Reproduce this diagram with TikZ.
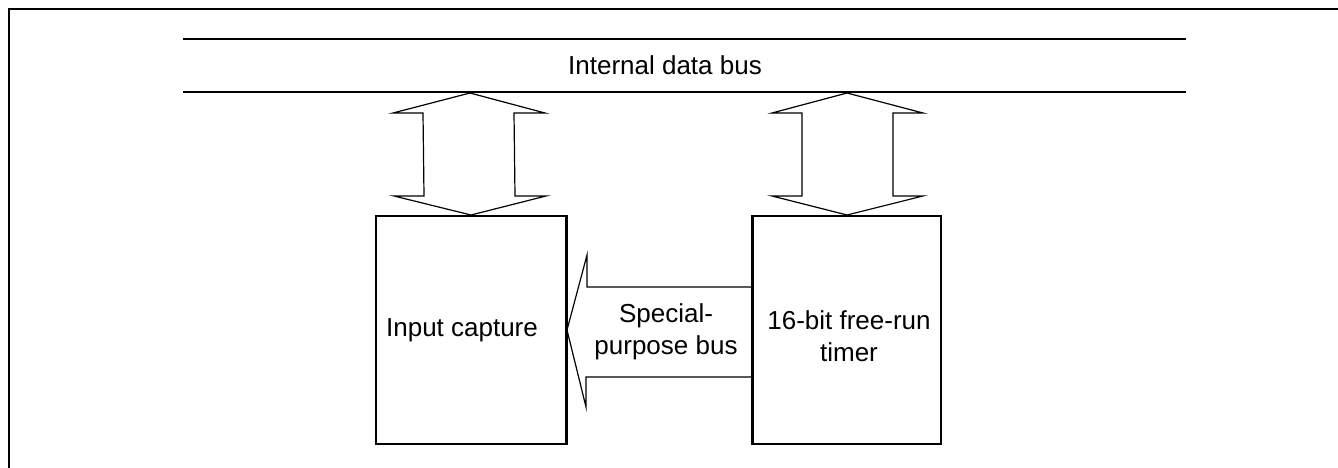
\documentclass[tikz,border=0pt]{standalone}
\usepackage{fontspec}
\setmainfont{Liberation Sans}
\usetikzlibrary{calc}
\begin{document}
\begin{tikzpicture}[x=1pt,y=-1pt,
  frameline/.style={line width=2.2pt},
  busline/.style={line width=2.2pt},
  blockbox/.style={draw,line width=2pt,align=center,inner sep=0pt,font=\fontsize{26}{32}\selectfont},
  busarrow/.style={draw,line width=1.2pt,line join=miter,fill=white},
  lbl/.style={align=center,inner sep=0pt,font=\fontsize{26}{32}\selectfont}]
\useasboundingbox (0,0) rectangle (1338,468);
% outer frame (continues past the picture edges)
\draw[frameline] (9,468) -- (9,9) -- (1338,9);
% internal data bus
\coordinate (busTL) at (183,39);
\coordinate (busTR) at (1186,39);
\coordinate (busBL) at (183,92);
\coordinate (busBR) at (1186,92);
\draw[busline] (busTL) -- (busTR);
\draw[busline] (busBL) -- (busBR);
\node[lbl] (bustext) at (665,65) {Internal data bus};
% blocks
\node[blockbox,minimum width=190pt,minimum height=228pt] (ic) at (471,330) {};
\node[lbl] (ictext) at (462,330) {Input capture};
\node[blockbox,minimum width=188pt,minimum height=228pt] (frt) at (847,330) {};
\node[lbl] (frttext) at (849,336) {16-bit free-run\\timer};
% double arrows bus <-> blocks
\coordinate (la) at (470,93);
\coordinate (lb) at (ic.north);
\draw[busarrow] (la) -- ++(75,20) -- ++(-31,0) -- ($(lb)+(44,-19)$) -- ++(31,0) -- (lb)
  -- ++(-77,-19) -- ++(30,0) -- ($(la)+(-47,20)$) -- ++(-30,0) -- cycle;
\coordinate (ra) at (847,93);
\coordinate (rb) at (frt.north);
\draw[busarrow] (ra) -- ++(76,20) -- ++(-30,0) -- ($(rb)+(46,-19)$) -- ++(30,0) -- (rb)
  -- ++(-75,-19) -- ++(30,0) -- ($(ra)+(-45,20)$) -- ++(-30,0) -- cycle;
% special-purpose bus arrow
\coordinate (sa) at (ic.east);
\draw[busarrow] (sa) -- ++(20,-75) -- ++(0,32) -- (frt.west |- 0,287) -- (frt.west |- 0,377)
  -- (586,377) -- (586,407) -- cycle;
\draw[line width=2pt] (frt.north west) -- (frt.south west);
\draw[line width=2pt] (ic.north east) -- (ic.south east);
\node[lbl] (sptext) at (666,332) {Special-\\purpose bus};
\end{tikzpicture}
\end{document}
